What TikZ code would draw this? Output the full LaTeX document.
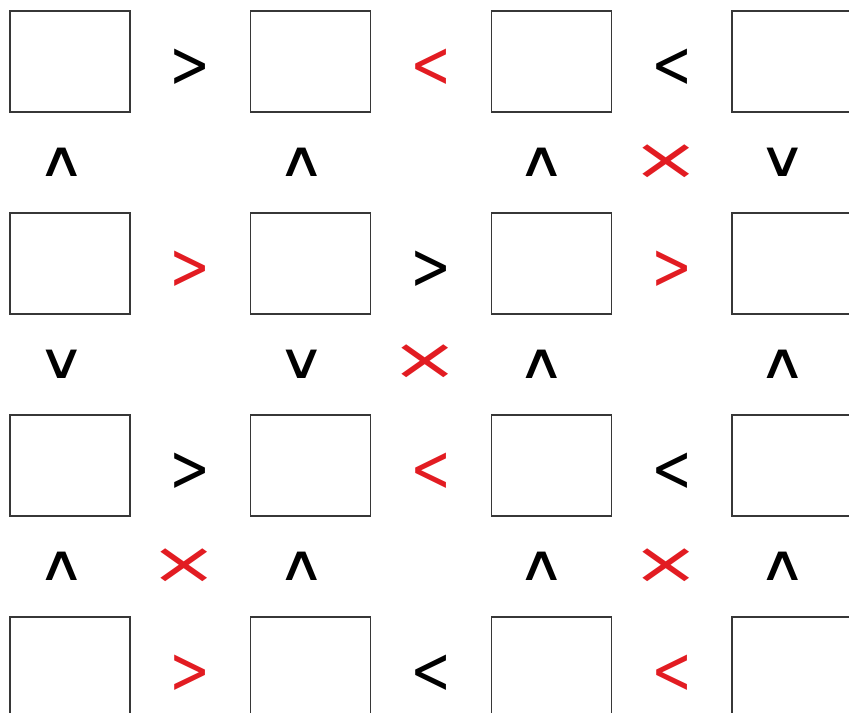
\documentclass[tikz,border=0pt]{standalone}
\usepackage{fontspec}
\usepackage{graphicx}
\usepackage{tikz}
\newfontfamily\sinalfont{DejaVu Sans}
\definecolor{vermelho}{RGB}{226,28,34}
\definecolor{cinzaescuro}{RGB}{55,55,55}
\newcommand{\maior}{\scalebox{0.8}[1.08]{>}}
\newcommand{\menor}{\scalebox{0.8}[1.08]{<}}
\newcommand{\cima}{\scalebox{1.08}[0.8]{∧}}
\newcommand{\baixo}{\scalebox{1.08}[0.8]{∨}}
\newcommand{\xis}{\scalebox{1.35}[0.95]{×}}
\tikzset{
  casa/.style={rectangle,draw=cinzaescuro,line width=1pt,minimum width=90pt,
    minimum height=75.75pt,inner sep=0pt},
  sinal/.style={inner sep=0pt,font=\sinalfont\fontsize{46}{46}\selectfont},
  errado/.style={sinal,text=vermelho}
}

\begin{document}
\begin{tikzpicture}[x=0.75pt,y=-0.75pt]
\useasboundingbox (0,0) rectangle (849,713);
\clip (0,0) rectangle (849,713);
% casas
\foreach \l/\yy in {1/61.5,2/263.5,3/465.5,4/667.5}
  \foreach \c/\xx in {1/70,2/310.5,3/551.5,4/792}
    \node[casa] (b\l\c) at (\xx,\yy) {};
% sinais entre colunas
\foreach \nome/\xx/\yy/\s/\cor in {h11/190/68/\maior/black,h12/431/68/\menor/vermelho,h13/672/68/\menor/black,
    h21/190/270/\maior/vermelho,h22/431/270/\maior/black,h23/672/270/\maior/vermelho,
    h31/190/472/\maior/black,h32/431/472/\menor/vermelho,h33/672/472/\menor/black,
    h41/190/674/\maior/vermelho,h42/431/674/\menor/black,h43/672/674/\menor/vermelho}
  \node[sinal,text=\cor] (\nome) at (\xx,\yy) {\s};
% sinais entre linhas
\foreach \nome/\xx/\yy/\s in {v11/62/162/\cima,v12/302/162/\cima,v13/542/162/\cima,v14/783/162/\baixo,
    v21/62/364/\baixo,v22/302/364/\baixo,v23/542/364/\cima,v24/783/364/\cima,
    v31/62/566/\cima,v32/302/566/\cima,v33/542/566/\cima,v34/783/566/\cima}
  \node[sinal] (\nome) at (\xx,\yy) {\s};
% cruzes
\foreach \nome/\xx/\yy in {x13/666/162,x22/425/362,x31/184/566,x33/666/566}
  \node[errado] (\nome) at (\xx,\yy) {\xis};
\end{tikzpicture}
\end{document}
